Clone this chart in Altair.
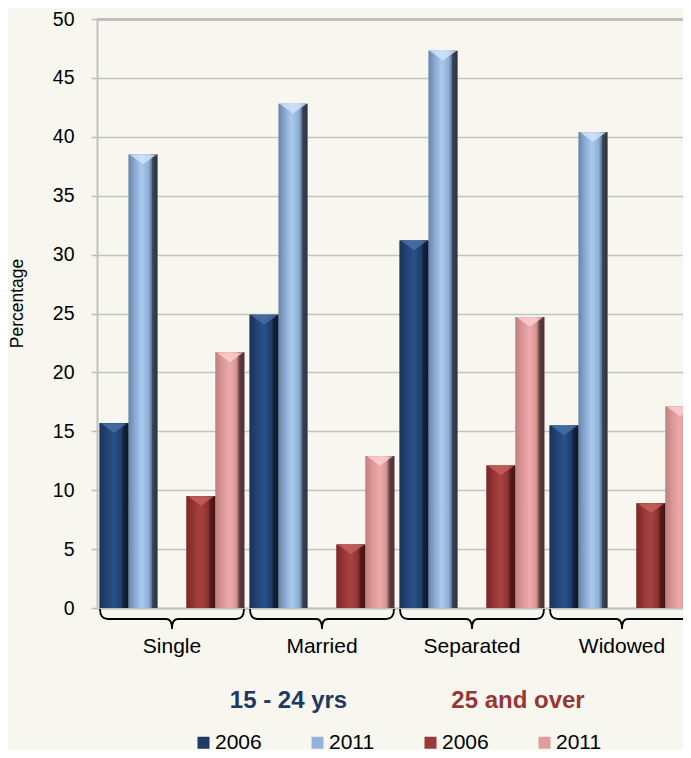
import altair as alt
import pandas as pd

categories = ["Single", "Married", "Separated", "Widowed"]
young_2006 = [15.7, 24.9, 31.2, 15.5]
young_2011 = [38.5, 42.8, 47.3, 40.4]
older_2006 = [9.5, 5.4, 12.1, 8.9]
older_2011 = [21.7, 12.9, 24.7, 17.1]

series_keys = ["15-24|2006", "15-24|2011", "25+|2006", "25+|2011"]
series_values = [young_2006, young_2011, older_2006, older_2011]
offset_domain = ["15-24|2006", "15-24|2011", "gap", "25+|2006", "25+|2011"]
legend_colors = ["#1f3a63", "#93b3dd", "#983a38", "#e39c9c"]
group_labels = ["15 - 24 yrs", "25 and over"]
group_colors = ["#1f3864", "#953735"]

FONT = "Liberation Sans"
BG = "#f7f7f0"

rows = []
for key, vals in zip(series_keys, series_values):
    for c, v in zip(categories, vals):
        rows.append({"category": c, "series": key, "value": v})
df = pd.DataFrame(rows)
cat_df = pd.DataFrame({"category": categories})

W, H = 586, 589

x_enc = alt.X("category:N", sort=categories,
              scale=alt.Scale(domain=categories, range=[0, 600], paddingInner=0, paddingOuter=0),
              axis=alt.Axis(title=None, ticks=False, tickSize=0, labelPadding=44,
                            labelBaseline="alphabetic", labelFontSize=21, labelFont=FONT,
                            labelColor="#000000", domainColor="#bfbfbf", domainWidth=2,
                            labelAngle=0, grid=False))
xo_enc = alt.XOffset("series:N",
                     scale=alt.Scale(domain=offset_domain, paddingInner=0, paddingOuter=0.09))
y_enc = alt.Y("value:Q",
              scale=alt.Scale(domain=[0, 50], nice=False),
              axis=alt.Axis(title="Percentage", values=list(range(0, 51, 5)),
                            titleFont=FONT, titleFontSize=17.5, titleFontWeight="normal",
                            titleColor="#000000", titleAngle=-90, titleX=-80, titleY=284,
                            titleAlign="center", titleBaseline="middle",
                            labelFont=FONT, labelFontSize=19.5, labelColor="#000000",
                            labelPadding=17, tickSize=6, tickColor="#bfbfbf", tickWidth=1.5,
                            domainColor="#bfbfbf", domainWidth=2,
                            gridColor="#c3c3c3", gridWidth=1.5))

base = alt.Chart(df).mark_bar(strokeWidth=0).encode(
    x=x_enc, xOffset=xo_enc, y=y_enc,
    color=alt.Color("series:N", scale=alt.Scale(domain=series_keys, range=legend_colors),
                    legend=alt.Legend(title=None, orient="none", legendX=96, legendY=713,
                                      direction="horizontal", columns=4, columnPadding=45,
                                      symbolType="square", symbolSize=144, symbolStrokeWidth=0,
                                      labelFontSize=21, labelFont=FONT, labelColor="#000000",
                                      labelOffset=1, padding=0,
                                      labelExpr="split(datum.label, '|')[1]"))
)

grads = {
    "15-24|2006": [(0, "#1b3357"), (0.3, "#23467a"), (0.5, "#2a5188"), (0.75, "#1f3f6c"), (0.82, "#13243e"), (1, "#0c1829")],
    "15-24|2011": [(0, "#6a84a6"), (0.2, "#88a7ce"), (0.45, "#a9c9f0"), (0.7, "#8eaed6"), (0.8, "#5d7392"), (0.83, "#3a4555"), (1, "#2c333d")],
    "25+|2006": [(0, "#7a2726"), (0.3, "#9a3a39"), (0.5, "#a64342"), (0.75, "#8c3231"), (0.82, "#5a1d1c"), (1, "#3f1313")],
    "25+|2011": [(0, "#c07f7f"), (0.25, "#dc9898"), (0.5, "#eeaaaa"), (0.72, "#d89494"), (0.8, "#8c5e5e"), (0.84, "#5a3d3d"), (1, "#4a3333")],
}
tops = {"15-24|2006": "#4a72a6", "15-24|2011": "#d2e6fc", "25+|2006": "#c8625f", "25+|2011": "#fcd0d0"}

layers = [base]
for key in series_keys:
    g = alt.Gradient(gradient="linear", x1=0, x2=1, y1=0, y2=0,
                     stops=[alt.GradientStop(offset=o, color=c) for o, c in grads[key]])
    layers.append(
        alt.Chart(df).transform_filter(alt.datum.series == key)
        .mark_bar(color=g, strokeWidth=0)
        .encode(x=x_enc, xOffset=xo_enc, y=y_enc)
    )
    layers.append(
        alt.Chart(df).transform_filter(alt.datum.series == key)
        .mark_point(shape="M -1 -0.36 L 1 -0.36 L 0 0.36 Z", size=700, filled=True,
                    color=tops[key], opacity=0.8, yOffset=5, strokeWidth=0)
        .encode(x=x_enc, xOffset=xo_enc, y=y_enc)
    )

brace_path = "M -1 -0.139 Q -1 0 -0.89 0 L -0.08 0 Q 0 0 0 0.139 Q 0 0 0.08 0 L 0.89 0 Q 1 0 1 -0.139"
braces = alt.Chart(cat_df).mark_point(shape=brace_path, size=144 * 144, filled=False,
                                      stroke="#000000", strokeWidth=1.8, opacity=1).encode(
    x=x_enc, y=alt.value(H + 11)
)
layers.append(braces)

grp_df = pd.DataFrame({"label": group_labels, "color": group_colors,
                       "pos": [191.5, 421]})
group_text = alt.Chart(grp_df).mark_text(font=FONT, fontSize=24, fontWeight="bold",
                                         align="center", baseline="alphabetic").encode(
    x=alt.X("pos:Q", scale=alt.Scale(domain=[0, W], range=[0, W]), axis=None),
    y=alt.value(H + 100),
    text="label:N",
    color=alt.Color("color:N", scale=None),
)

chart = alt.layer(*layers, group_text).resolve_scale(x="independent", color="independent").properties(
    width=W, height=H,
    autosize=alt.AutoSizeParams(type="none"),
    padding={"left": 89, "top": 11, "right": 0, "bottom": 142},
    background=BG,
).configure_view(stroke=None)

chart.save("out.html", embed_options={"renderer": "svg", "actions": False})
